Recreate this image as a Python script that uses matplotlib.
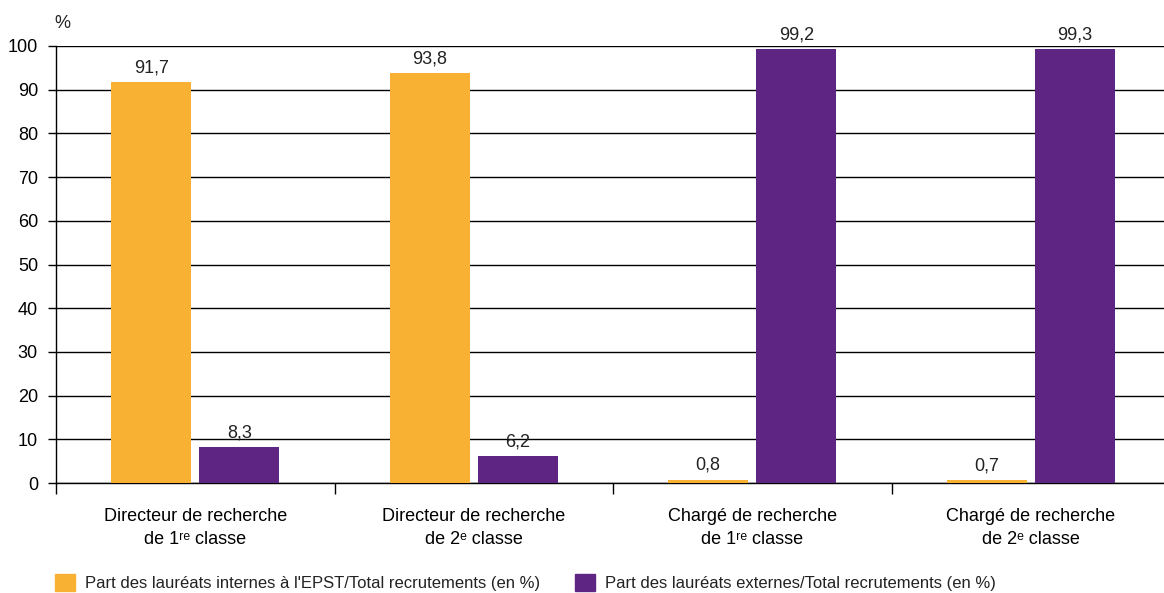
import matplotlib
matplotlib.use('Agg')
import matplotlib.pyplot as plt
from matplotlib.patches import Patch
import numpy as np

# data
categories = ['Directeur de recherche\nde 1\u02b3\u1d49 classe',
              'Directeur de recherche\nde 2\u1d49 classe',
              'Chargé de recherche\nde 1\u02b3\u1d49 classe',
              'Chargé de recherche\nde 2\u1d49 classe']
internes = [91.7, 93.8, 0.8, 0.7]
externes = [8.3, 6.2, 99.2, 99.3]
series_names = ["Part des lauréats internes à l'EPST/Total recrutements (en %)",
                'Part des lauréats externes/Total recrutements (en %)']
yticks = list(range(0, 101, 10))

orange = '#F8B133'
purple = '#5E2583'

plt.rcParams['font.family'] = ['Liberation Sans Narrow', 'Liberation Sans', 'DejaVu Sans']
plt.rcParams['text.color'] = '#222222'

fig = plt.figure(figsize=(11.64, 5.93), dpi=100)
ax = fig.add_axes([56 / 1164, 110 / 593, 1114 / 1164, 437 / 593])

x = np.arange(len(categories))
w = 0.287
off = 0.158
ax.bar(x - off, internes, width=w, color=orange, zorder=3)
ax.bar(x + off, externes, width=w, color=purple, zorder=3)

for xi, v in zip(x - off, internes):
    ax.text(xi, v + 1.3, f'{v:.1f}'.replace('.', ','), ha='center', va='bottom', fontsize=13)
for xi, v in zip(x + off, externes):
    ax.text(xi, v + 1.3, f'{v:.1f}'.replace('.', ','), ha='center', va='bottom', fontsize=13)

ax.set_xlim(-0.5, 3.5)
ax.set_ylim(0, 100)
ax.set_yticks(yticks)
ax.tick_params(axis='y', labelsize=13, length=6, width=1, color='black', pad=7)
ax.yaxis.grid(True, color='black', linewidth=1)
ax.set_axisbelow(True)

ax.set_xticks(x)
ax.set_xticklabels(categories, fontsize=13, linespacing=1.45)
ax.set_xticks(np.arange(-0.5, 3.6, 1), minor=True)
ax.tick_params(axis='x', which='major', length=0, pad=18)
ax.tick_params(axis='x', which='minor', length=8, width=1, color='black')

for s in ['top', 'right']:
    ax.spines[s].set_visible(False)
ax.spines['left'].set_linewidth(1)
ax.spines['bottom'].set_linewidth(1)

fig.text(54 / 1164, 1 - 24 / 593, '%', fontsize=13, ha='left', va='center')

handles = [Patch(color=orange), Patch(color=purple)]
fig.legend(handles, series_names, loc='lower left', bbox_to_anchor=(0.034, -0.022),
           ncol=2, frameon=False, fontsize=12, handlelength=1.2, handleheight=1.2,
           handletextpad=0.6, columnspacing=2.1)

fig.savefig('out.png', dpi=100)
